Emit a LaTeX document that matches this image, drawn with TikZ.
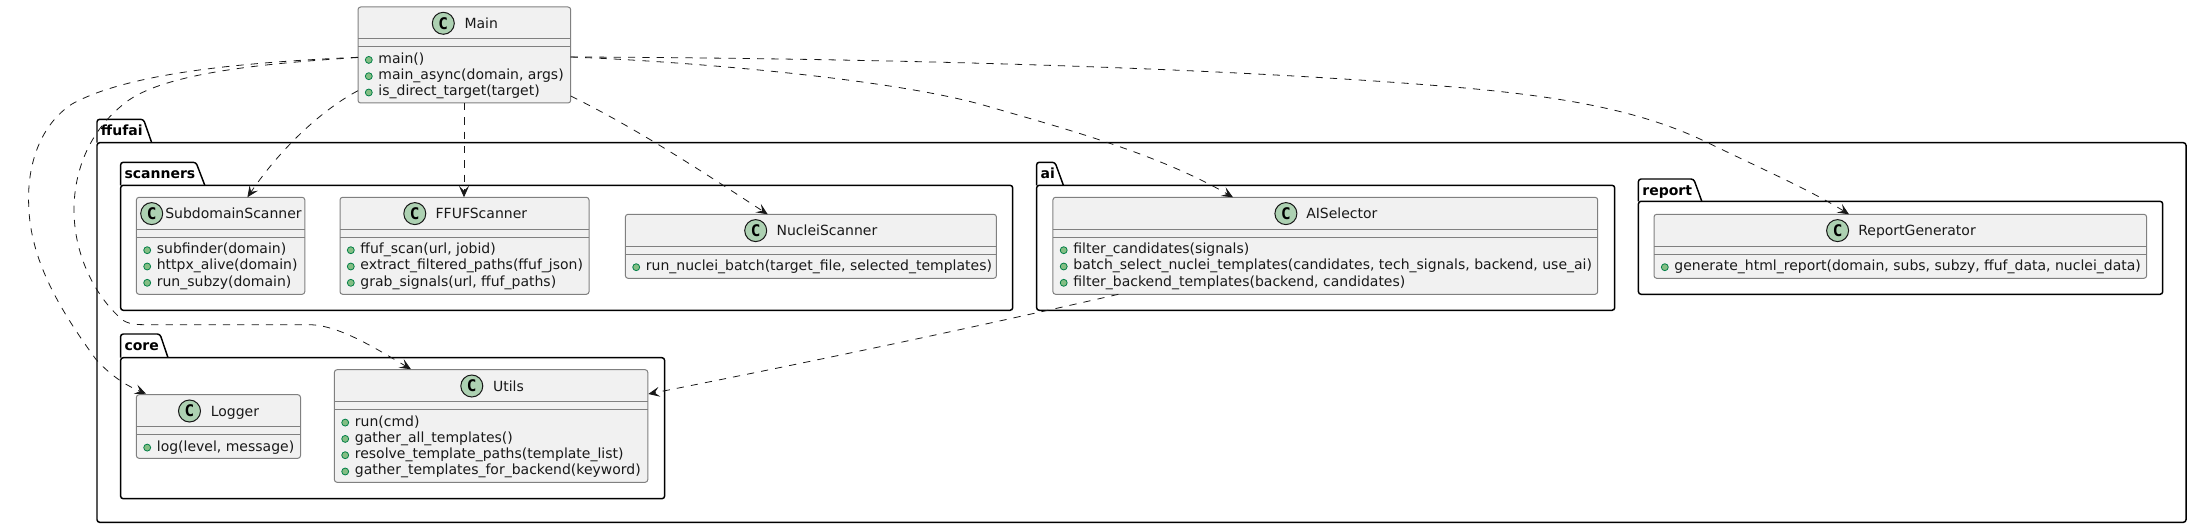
\documentclass[tikz,border=0pt]{standalone}
\usepackage{fontspec}
\setmainfont{DejaVu Sans}
\setmonofont{DejaVu Sans Mono}
\usepackage{xcolor}
\usepackage{tikz}
\usetikzlibrary{arrows.meta,calc,fit}

\definecolor{classfill}{HTML}{F1F1F1}
\definecolor{classedge}{HTML}{181818}
\definecolor{classline}{HTML}{808080}
\definecolor{spotfill}{HTML}{ADD1B2}
\definecolor{dotfill}{HTML}{84BE84}
\definecolor{dotedge}{HTML}{038048}

\tikzset{
  pkgbox/.style={draw=black,line width=1.1pt,rounded corners=2pt,inner sep=0pt,outer sep=0pt},
  pkglabel/.style={anchor=base west,inner sep=0pt,font=\fontsize{10.5}{12}\selectfont\bfseries},
  classbox/.style={draw=classline,fill=classfill,line width=0.75pt,rounded corners=2pt,inner sep=0pt,outer sep=0pt},
  sepline/.style={draw=classline,line width=0.75pt},
  spot/.style={draw=classedge,fill=spotfill,line width=0.75pt},
  dot/.style={draw=dotedge,fill=dotfill,line width=0.6pt},
  txt/.style={anchor=base west,inner sep=0pt,text=black!90,font=\fontsize{10.5}{12}\selectfont},
  dep/.style={draw=classedge,line width=0.6pt,dash pattern=on 5.4pt off 5.35pt,
    -{Stealth[length=8.5pt,width=7.5pt,inset=3.6pt]}}
}

\begin{document}
\begin{tikzpicture}[x=0.75pt,y=-0.75pt]
\useasboundingbox (0,0) rectangle (2192,528);

% Packages
\foreach \pname/\xl/\xr/\ytab/\ytop/\ybot/\xa/\xb in {
    ffufai/97/2186/119.3/142.7/522.3/143.5/151.7,
    scanners/120.6/1012.7/162.3/185.3/310.3/196/204.8,
    core/120.6/664.6/334/357.7/498.7/160/168,
    ai/1036.6/1614.7/162.3/185.3/310.3/1055/1063.4,
    report/1638.4/2162.7/179/201.3/294.3/1693.7/1701.8}
{
    \node[pkgbox,fit={(\xl,\ytop) (\xr,\ybot)}] (\pname) {};
    \draw[pkgbox] (\xl,\ytop) -- (\xl,\ytab) -- (\xa,\ytab) -- (\xb,\ytop);
    \node[pkglabel] (\pname label) at (\xl+3.7,\ytab+16) {\pname};
}

% Classes
\foreach \cname/\title/\xl/\yt/\xr/\yb/\xc/\xn/\rows in {
    main/Main/358/7/570.7/103/443.3/464.3/{{main()},{main\_async(domain, args)},{is\_direct\_target(target)}},
    subdomain/SubdomainScanner/136.4/197.3/304.8/294.3/151.7/165/{{subfinder(domain)},{httpx\_alive(domain)},{run\_subzy(domain)}},
    ffufscan/FFUFScanner/340/197.3/589/294.3/414.8/435.4/{{ffuf\_scan(url, jobid)},{extract\_filtered\_paths(ffuf\_json)},{grab\_signals(url, ffuf\_paths)}},
    nuclei/NucleiScanner/625.4/214.3/996.4/278.3/755.7/776.3/{{run\_nuclei\_batch(target\_file, selected\_templates)}},
    aisel/AISelector/1052.9/197.3/1597.7/294.3/1285.9/1306/{{filter\_candidates(signals)},{batch\_select\_nuclei\_templates(candidates, tech\_signals, backend, use\_ai)},{filter\_backend\_templates(backend, candidates)}},
    repgen/ReportGenerator/1654/214.3/2146.6/278.3/1837.6/1858/{{generate\_html\_report(domain, subs, subzy, ffuf\_data, nuclei\_data)}},
    logger/Logger/136.4/394.7/300.5/458.3/189.5/210.5/{{log(level, message)}},
    utils/Utils/334.4/369.7/647.8/482.3/471.8/492.8/{{run(cmd)},{gather\_all\_templates()},{resolve\_template\_paths(template\_list)},{gather\_templates\_for\_backend(keyword)}}}
{
    \node[classbox,fit={(\xl,\yt) (\xr,\yb)}] (\cname) {};
    \draw[sepline] (\xl,\yt+32) -- (\xr,\yt+32);
    \draw[sepline] (\xl,\yt+40) -- (\xr,\yt+40);
    \draw[spot] (\xc,\yt+16.3) circle (8.25pt);
    \node[inner sep=0pt,font=\fontsize{12}{12}\selectfont\ttfamily\bfseries] at (\xc,\yt+16.3) {C};
    \node[txt] at (\xn,\yt+21.3) {\title};
    \foreach \row [count=\i] in \rows {
        \fill[dot] (\xl+10.8,\yt+36.6+16.3*\i) circle (2.6pt);
        \node[txt] at (\xl+20.2,\yt+40+16.3*\i) {\row};
    }
}

% Dependencies
\draw[dep] ($(main.north west)+(0,50.3)$) .. controls (250,62) and (130,72) .. (72,104)
    .. controls (40,125) and (27,165) .. (28.7,205)
    .. controls (30,260) and (60,310) .. (95.7,359)
    .. controls (110,375) and (125,385) .. ($(logger.north west)+(9.6,-1)$);
\draw[dep] ($(main.north west)+(0,50.5)$) .. controls (270,63) and (170,72) .. (129,100)
    .. controls (90,128) and (74,170) .. (74,210)
    .. controls (74,255) and (95,295) .. (119.6,317.3)
    .. controls (125,323) and (132,324.7) .. (145,324.7) -- (311,324.7)
    .. controls (340,326) and (375,348) .. ($(utils.north west)+(76.6,-0.5)$);
\draw[dep] ($(main.south west)+(0,-12.3)$) .. controls (325,108) and (283,145) .. ($(subdomain.north west)+(111,0)$);
\draw[dep] ($(main.south west)+(106,0)$) -- ($(ffufscan.north west)+(124,0)$);
\draw[dep] ($(main.south east)+(0,-7)$) .. controls (640,130) and (715,180) .. ($(nuclei.north west)+(142.3,0)$);
\draw[dep] ($(main.north east)+(0,50)$) .. controls (700,62) and (900,80) .. (989,106.7)
    .. controls (1070,130) and (1160,155) .. ($(aisel.north west)+(180.1,0)$);
\draw[dep] ($(main.north east)+(0,50)$) .. controls (850,58) and (1200,66) .. (1450,86.7)
    .. controls (1560,96) and (1640,110) .. (1705.6,141.7)
    .. controls (1760,168) and (1810,190) .. ($(repgen.north west)+(195,0)$);
\draw[dep] ($(aisel.south west)+(65.5,0)$) .. controls (950,333) and (780,368) .. ($(utils.north east)+(0.5,24.3)$);
\end{tikzpicture}
\end{document}
